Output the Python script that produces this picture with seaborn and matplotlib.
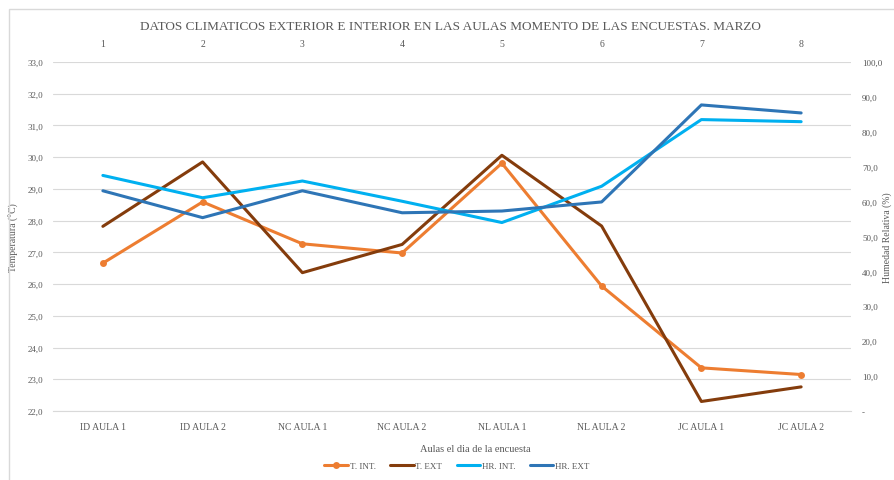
import matplotlib
matplotlib.use("Agg")
import matplotlib.pyplot as plt
import seaborn as sns
import numpy as np
from matplotlib.lines import Line2D
from matplotlib.patches import Rectangle
from matplotlib.ticker import FuncFormatter

categories = ["ID AULA 1", "ID AULA 2", "NC AULA 1", "NC AULA 2",
              "NL AULA 1", "NL AULA 2", "JC AULA 1", "JC AULA 2"]
top_labels = ["1", "2", "3", "4", "5", "6", "7", "8"]

t_int = [26.66, 28.59, 27.27, 26.98, 29.81, 25.94, 23.36, 23.15]
t_ext = [27.82, 29.85, 26.36, 27.25, 30.06, 27.83, 22.30, 22.76]
hr_int = [67.5, 61.1, 65.9, 60.1, 54.0, 64.4, 83.5, 82.9]
hr_ext = [63.1, 55.4, 63.1, 56.8, 57.3, 59.9, 87.7, 85.4]

c_tint = "#ED7D31"
c_text = "#843C0C"
c_hrint = "#00B0F0"
c_hrext = "#2E75B6"
grey = "#595959"

sns.set_style("white")
plt.rcParams["font.family"] = ["Liberation Serif", "DejaVu Serif"]

W, H = 895, 481
fig = plt.figure(figsize=(W / 100, H / 100), dpi=100)
fig.patches.append(Rectangle((9 / W, -0.1), 1.2, 1 - 10 / H + 0.1,
                             transform=fig.transFigure, fill=False,
                             edgecolor="#D9D9D9", lw=1))

x0, x1, y0, y1 = 53, 851, 63, 412
ax = fig.add_axes([x0 / W, 1 - y1 / H, (x1 - x0) / W, (y1 - y0) / H])
ax2 = ax.twinx()

pos = np.arange(len(categories))
sns.lineplot(x=pos, y=t_int, ax=ax, color=c_tint, lw=2.2, marker="o",
             markersize=5, markeredgewidth=0)
sns.lineplot(x=pos, y=t_ext, ax=ax, color=c_text, lw=2.2)
sns.lineplot(x=pos, y=hr_int, ax=ax2, color=c_hrint, lw=2.2)
sns.lineplot(x=pos, y=hr_ext, ax=ax2, color=c_hrext, lw=2.2)

ax.set_xlim(-0.5, len(categories) - 0.5)
ax.set_ylim(22, 33)
ax.set_yticks(np.arange(22, 34, 1))
ax.yaxis.set_major_formatter(FuncFormatter(lambda v, p: f"{v:.1f}".replace(".", ",")))
ax.set_xticks(pos)
ax.set_xticklabels(categories)
ax.grid(axis="y", color="#D9D9D9", lw=0.8)
ax.set_axisbelow(True)

ax2.set_ylim(0, 100)
ax2.set_yticks(np.arange(0, 101, 10))
ax2.yaxis.set_major_formatter(FuncFormatter(
    lambda v, p: "-" if v == 0 else f"{v:.1f}".replace(".", ",")))
ax2.grid(False)

for a in (ax, ax2):
    for s in a.spines.values():
        s.set_visible(False)
ax.spines["bottom"].set_visible(True)
ax.spines["bottom"].set_color("#D9D9D9")

ax.tick_params(axis="x", length=0, pad=8, labelsize=7, labelcolor=grey)
ax.tick_params(axis="y", length=0, pad=7, labelsize=6.5, labelcolor=grey)
ax2.tick_params(axis="y", length=0, pad=8, labelsize=6.5, labelcolor=grey)

top = ax.secondary_xaxis("top")
top.set_xticks(pos)
top.set_xticklabels(top_labels)
top.tick_params(length=0, pad=10, labelsize=7, labelcolor=grey)
top.spines["top"].set_visible(False)

ax.set_ylabel("Temperatura (°C)", fontsize=7, color=grey)
ax.yaxis.set_label_coords(-0.043, 0.5)
ax2.set_ylabel("Humedad Relativa (%)", fontsize=7, color=grey, rotation=90)
ax2.yaxis.set_label_coords(1.039, 0.5)
ax.set_xlabel("Aulas el dia de la encuesta", fontsize=7.5, color=grey)
ax.xaxis.set_label_coords((475 - x0) / (x1 - x0), -0.095)

fig.text(450 / W, 1 - 27 / H,
         "DATOS CLIMATICOS EXTERIOR E INTERIOR EN LAS AULAS MOMENTO DE LAS ENCUESTAS. MARZO",
         ha="center", va="center", fontsize=9.5, color=grey)

handles = [
    Line2D([], [], color=c_tint, lw=2.2, marker="o", markersize=5, markeredgewidth=0),
    Line2D([], [], color=c_text, lw=2.2),
    Line2D([], [], color=c_hrint, lw=2.2),
    Line2D([], [], color=c_hrext, lw=2.2),
]
fig.legend(handles, ["T. INT.", "T. EXT", "HR. INT.", "HR. EXT"],
           loc="center", bbox_to_anchor=(457 / W, 1 - 467 / H), ncol=4,
           frameon=False, fontsize=6.5, labelcolor=grey, handlelength=2.6,
           handletextpad=0.2, columnspacing=1.6)

fig.savefig("out.png", dpi=100)
